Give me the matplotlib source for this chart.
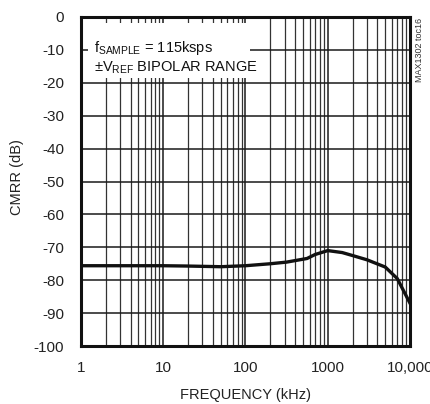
import matplotlib
matplotlib.use("Agg")
import matplotlib.pyplot as plt
import numpy as np
from matplotlib.patches import Rectangle
from matplotlib.ticker import FixedLocator, LogLocator, NullFormatter

plt.rcParams["font.family"] = ["Liberation Sans", "DejaVu Sans"]
plt.rcParams["mathtext.fontset"] = "custom"
plt.rcParams["mathtext.rm"] = "Liberation Sans"

# CMRR curve
freq_khz = [1, 10, 20, 50, 100, 200, 316, 560, 700, 1000, 1500, 2000, 3000, 5000, 7000, 10000]
cmrr_db = [-75.6, -75.6, -75.7, -75.9, -75.6, -75.0, -74.5, -73.4, -72.2, -71.0, -71.6,
           -72.5, -73.8, -76.0, -79.5, -87.0]

x_ticks = [1, 10, 100, 1000, 10000]
x_labels = ["1", "10", "100", "1000", "10,000"]
y_ticks = list(range(-100, 1, 10))

W, H = 430, 404
fig = plt.figure(figsize=(W / 100, H / 100), dpi=100, facecolor="white")
ax = fig.add_axes([81 / W, 1 - 346 / H, (410 - 81) / W, (346 - 17) / H])

ax.set_xscale("log")
ax.set_xlim(1, 10000)
ax.set_ylim(-100, 0)

ax.xaxis.set_major_locator(FixedLocator(x_ticks))
ax.xaxis.set_minor_locator(LogLocator(base=10, subs=np.arange(2, 10)))
ax.xaxis.set_minor_formatter(NullFormatter())
ax.set_xticklabels(x_labels)
ax.set_yticks(y_ticks)
ax.set_yticklabels([str(v) for v in y_ticks])

ax.grid(True, which="major", color="#1a1a1a", linewidth=1.1)
ax.grid(True, which="minor", axis="x", color="#333333", linewidth=0.9)
ax.tick_params(which="both", length=0, labelsize=11, colors="#222222")
ax.tick_params(axis="x", pad=11)
ax.tick_params(axis="y", pad=12)

for s in ax.spines.values():
    s.set_linewidth(2.2)
    s.set_color("#111111")

# white box behind the note, covering the grid (pixel coords, origin bottom-left)
ax.add_patch(Rectangle((88, H - 78), 250 - 88, 78 - 23, transform=None, facecolor="white",
                       edgecolor="none", zorder=2.5))
ax.text(0.04, 0.895, r"f$_{\mathregular{SAMPLE}}$ = 115ksps", transform=ax.transAxes,
        fontsize=10.5, color="#111111", zorder=3)
ax.text(0.04, 0.835, r"±V$_{\mathregular{REF}}$ BIPOLAR RANGE", transform=ax.transAxes,
        fontsize=10.5, color="#111111", zorder=3)

ax.plot(freq_khz, cmrr_db, color="#111111", linewidth=2.4, zorder=4)

fig.text(245 / W, 1 - 395 / H, "FREQUENCY (kHz)", fontsize=10.5, color="#222222",
         ha="center", va="center")
fig.text(17 / W, 1 - 177 / H, "CMRR (dB)", fontsize=10.5, color="#222222",
         ha="center", va="center", rotation=90)

fig.text(419 / W, 1 - 50 / H, "MAX1302 toc16", rotation=90, fontsize=6.5,
         color="#333333", ha="center", va="center")

fig.savefig("out.png", dpi=100, facecolor="white")
